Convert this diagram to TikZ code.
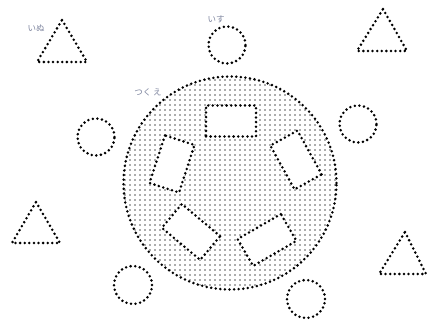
\documentclass[tikz,border=0pt]{standalone}
\usepackage{fontspec}
\newfontfamily\jpfont{Noto Sans CJK JP}
\usetikzlibrary{patterns.meta}
\definecolor{labelgray}{RGB}{125,132,158}
\tikzset{
  dotline/.style={line width=2.8pt, line cap=round, dash pattern=on 0pt off 4.6pt},
  seat/.style={circle, draw, dotline, minimum size=37pt, inner sep=0pt},
  desk/.style={rectangle, draw, dotline, fill=white, minimum width=50pt, minimum height=31pt, inner sep=0pt},
  tag/.style={font=\jpfont\fontsize{8.5}{9}\selectfont, text=labelgray, inner sep=0pt}
}
\begin{document}
\begin{tikzpicture}[x=1pt, y=-1pt]
\useasboundingbox (0,0) rectangle (427,320);

% table area
\node[circle, draw, dotline, minimum size=213pt, inner sep=0pt,
      pattern={Dots[distance=5pt, radius=0.9pt]}, pattern color=black!65] (tablearea) at (230,183) {};

% desks
\node[desk] (desktop) at (231,121) {};
\node[desk, rotate=72] (deskul) at (172,164) {};
\node[desk, rotate=-61] (deskur) at (296,160) {};
\node[desk, rotate=-40] (deskll) at (191,232) {};
\node[desk, rotate=30] (desklr) at (267,240) {};

% chairs
\node[seat] (chairtop) at (227,45) {};
\node[seat] (chairleft) at (96,137) {};
\node[seat] (chairright) at (358,124) {};
\node[seat, minimum size=38pt] (chairbl) at (133,285) {};
\node[seat, minimum size=38pt] (chairbr) at (306,299) {};

% dogs
\draw[dotline] (62,20) -- (87,62) -- (37,62) -- cycle;
\draw[dotline] (383,9) -- (407,51) -- (357,51) -- cycle;
\draw[dotline] (36,202) -- (60,243) -- (12,243) -- cycle;
\draw[dotline] (405,232) -- (426,274) -- (379,274) -- cycle;

% labels
\node[tag] (dogtag) at (36,28) {いぬ};
\node[tag] (chairtag) at (216,19) {いす};
\node[tag] (desktag) at (148,92) {つく え};
\end{tikzpicture}
\end{document}
